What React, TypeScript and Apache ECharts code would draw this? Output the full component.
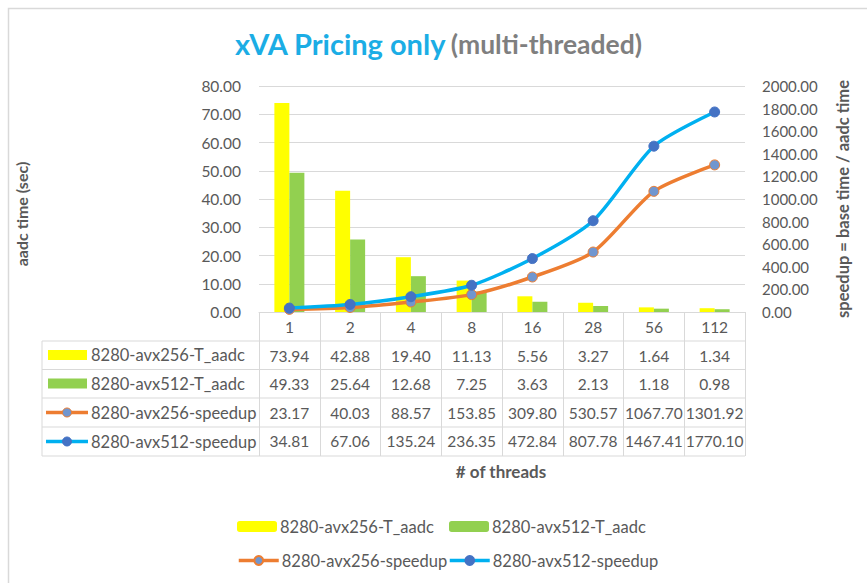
import React, { useEffect, useRef } from "react";
import * as echarts from "echarts";

const categories = ["1", "2", "4", "8", "16", "28", "56", "112"];
const avx256T = [73.94, 42.88, 19.4, 11.13, 5.56, 3.27, 1.64, 1.34];
const avx512T = [49.33, 25.64, 12.68, 7.25, 3.63, 2.13, 1.18, 0.98];
const avx256S = [23.17, 40.03, 88.57, 153.85, 309.8, 530.57, 1067.7, 1301.92];
const avx512S = [34.81, 67.06, 135.24, 236.35, 472.84, 807.78, 1467.41, 1770.1];
const seriesNames = [
  "8280-avx256-T_aadc",
  "8280-avx512-T_aadc",
  "8280-avx256-speedup",
  "8280-avx512-speedup",
];
const leftAxis = { min: 0, max: 80, interval: 10 };
const rightAxis = { min: 0, max: 2000, interval: 200 };

const FONT = "Lato";
const GRAY = "#595959";
const GRID = "#d9d9d9";
const YELLOW = "#FFFF00";
const GREEN = "#92D050";
const ORANGE = "#ED7D31";
const BLUE = "#00B0F0";
const MARK1 = "#7196CF";
const MARK2 = "#4472C4";

export default function App() {
  const ref = useRef<HTMLDivElement>(null);
  useEffect(() => {
    const chart = echarts.init(ref.current!, undefined, { renderer: "svg" });
    const rows = [avx256T, avx512T, avx256S, avx512S];
    const rowY = [355, 383.5, 412.5, 441.5];
    const tableLines: any[] = [];
    [341, 369.5, 398, 427, 456].forEach((y) =>
      tableLines.push({
        type: "line",
        shape: { x1: 42, y1: y, x2: 745, y2: y },
        style: { stroke: GRID, lineWidth: 1 },
      })
    );
    tableLines.push({
      type: "line",
      shape: { x1: 42, y1: 341, x2: 42, y2: 456 },
      style: { stroke: GRID, lineWidth: 1 },
    });
    const keyEls: any[] = [];
    const colors = [YELLOW, GREEN];
    rowY.forEach((y, i) => {
      if (i < 2) {
        keyEls.push({
          type: "rect",
          shape: { x: 48, y: y - 5, width: 39, height: 10 },
          style: { fill: colors[i] },
        });
      } else {
        keyEls.push({
          type: "line",
          shape: { x1: 46, y1: y, x2: 88, y2: y },
          style: { stroke: i === 2 ? ORANGE : BLUE, lineWidth: 3.5 },
        });
        keyEls.push({
          type: "circle",
          shape: { cx: 67, cy: y, r: 4.5 },
          style: {
            fill: i === 2 ? MARK1 : MARK2,
            stroke: i === 2 ? ORANGE : MARK2,
            lineWidth: 1,
          },
        });
      }
      keyEls.push({
        type: "text",
        x: 91,
        y: y,
        style: {
          text: seriesNames[i],
          fill: GRAY,
          font: `16.5px ${FONT}`,
          verticalAlign: "middle",
          align: "left",
        },
      });
    });

    const legendBase = {
      itemWidth: 40,
      itemHeight: 11,
      itemGap: 5,
      padding: 0,
      lineStyle: { width: 3.5 },
      textStyle: { color: GRAY, fontSize: 16.5, fontFamily: FONT, padding: [0, 0, 0, -2] },
    };

    chart.setOption({
      animation: false,
      backgroundColor: "#fff",
      textStyle: { fontFamily: FONT },
      title: {
        text: "{a|xVA Pricing only} {b|(multi-threaded)}",
        left: 230,
        top: 24,
        textStyle: {
          rich: {
            a: { fontSize: 29, fontWeight: "bold", color: "#1BADE5", fontFamily: FONT },
            b: { fontSize: 26.5, fontWeight: "bold", color: "#7F7F7F", fontFamily: FONT },
          },
        },
      },
      grid: { left: 259, right: 122, top: 86, height: 226, containLabel: false },
      legend: [
        { ...legendBase, data: [seriesNames[0]], left: 237, top: 518 },
        { ...legendBase, data: [seriesNames[1]], left: 449, top: 518 },
        { ...legendBase, data: [seriesNames[2]], left: 237, top: 552 },
        { ...legendBase, data: [seriesNames[3]], left: 448, top: 552 },
      ],
      xAxis: {
        type: "category",
        data: categories,
        boundaryGap: true,
        axisLine: { lineStyle: { color: GRID, width: 1 } },
        axisTick: { show: true, length: 144, lineStyle: { color: GRID } },
        axisLabel: {
          interval: 0,
          margin: 1,
          lineHeight: 28.5,
          color: GRAY,
          fontSize: 15.5,
          fontFamily: FONT,
          formatter: (v: string, idx: number) =>
            [v, ...rows.map((r) => r[idx].toFixed(2))].join("\n"),
        },
      },
      yAxis: [
        {
          type: "value",
          ...leftAxis,
          axisLine: { show: false },
          axisTick: { show: false },
          splitLine: { lineStyle: { color: GRID } },
          axisLabel: {
            margin: 18,
            color: GRAY,
            fontSize: 15.5,
            fontFamily: FONT,
            formatter: (v: number) => v.toFixed(2),
          },
        },
        {
          type: "value",
          ...rightAxis,
          axisLine: { show: false },
          axisTick: { show: false },
          splitLine: { show: false },
          axisLabel: {
            margin: 17,
            color: GRAY,
            fontSize: 15,
            fontFamily: FONT,
            formatter: (v: number) => v.toFixed(2),
          },
        },
      ],
      series: [
        {
          name: seriesNames[0],
          type: "bar",
          data: avx256T,
          barWidth: 15,
          barGap: "0%",
          itemStyle: { color: YELLOW },
        },
        {
          name: seriesNames[1],
          type: "bar",
          data: avx512T,
          barWidth: 15,
          barGap: "0%",
          itemStyle: { color: GREEN },
        },
        {
          name: seriesNames[2],
          type: "line",
          yAxisIndex: 1,
          data: avx256S,
          smooth: 0.25,
          symbol: "circle",
          symbolSize: 10,
          lineStyle: { color: ORANGE, width: 3.5 },
          itemStyle: { color: MARK1, borderColor: ORANGE, borderWidth: 1 },
        },
        {
          name: seriesNames[3],
          type: "line",
          yAxisIndex: 1,
          data: avx512S,
          smooth: 0.25,
          symbol: "circle",
          symbolSize: 10,
          lineStyle: { color: BLUE, width: 3.5 },
          itemStyle: { color: MARK2, borderColor: MARK2, borderWidth: 1 },
        },
      ],
      graphic: [
        {
          type: "rect",
          shape: { x: 8.5, y: 8.5, width: 900, height: 600 },
          style: { fill: "none", stroke: GRID, lineWidth: 1.5 },
          silent: true,
        },
        ...tableLines,
        ...keyEls,
        {
          type: "text",
          x: 21,
          y: 214,
          rotation: Math.PI / 2,
          style: {
            text: "aadc time (sec)",
            fill: GRAY,
            font: `bold 16px ${FONT}`,
            align: "center",
            verticalAlign: "middle",
          },
        },
        {
          type: "text",
          x: 843,
          y: 199,
          rotation: Math.PI / 2,
          style: {
            text: "speedup = base time / aadc time",
            fill: GRAY,
            font: `bold 16.5px ${FONT}`,
            align: "center",
            verticalAlign: "middle",
          },
        },
        {
          type: "text",
          x: 501,
          y: 471,
          style: {
            text: "# of threads",
            fill: GRAY,
            font: `bold 17px ${FONT}`,
            align: "center",
            verticalAlign: "middle",
          },
        },
      ],
    });
    return () => chart.dispose();
  }, []);
  return (
    <div
      ref={ref}
      style={{ position: "fixed", left: 0, top: 0, width: 867, height: 583 }}
    />
  );
}
